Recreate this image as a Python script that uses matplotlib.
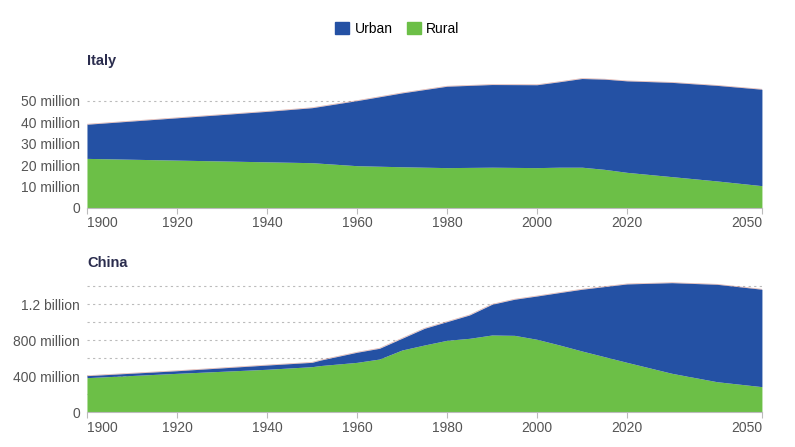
import numpy as np
import matplotlib
matplotlib.use("Agg")
import matplotlib.pyplot as plt
from matplotlib.patches import Patch

plt.rcParams['font.family'] = ['Liberation Sans', 'DejaVu Sans']

# Italy (people)
italy_years = [1900, 1920, 1940, 1950, 1960, 1970, 1980, 1990, 2000, 2005, 2010, 2015, 2020, 2030, 2040, 2050]
italy_total = [39.0, 42.0, 45.0, 46.7, 50.0, 53.6, 56.7, 57.5, 57.4, 58.8, 60.3, 60.0, 59.2, 58.5, 57.1, 55.3]
italy_rural = [23.1, 22.3, 21.5, 21.1, 19.7, 19.2, 18.8, 19.0, 18.8, 19.0, 19.0, 18.0, 16.6, 14.6, 12.6, 10.4]

# China (people)
china_years = [1900, 1920, 1940, 1950, 1952, 1960, 1965, 1970, 1975, 1980, 1985, 1990, 1995, 2000, 2005, 2010, 2020, 2030, 2040, 2050]
china_total = [407, 462, 525, 555, 581, 667, 711, 822, 933, 1007, 1081, 1200, 1256, 1292, 1330, 1367, 1426, 1440, 1422, 1367]
china_rural = [385, 433, 478, 507, 520, 555, 592, 692, 748, 800, 822, 859, 855, 811, 748, 681, 555, 433, 340, 285]

xticks = [1900, 1920, 1940, 1960, 1980, 2000, 2020, 2050]

blue = '#2451a4'
green = '#6cbf47'
grey_txt = '#555555'

fig = plt.figure(figsize=(7.95, 4.47), dpi=100)
ax1 = fig.add_axes([0.1094, 0.5347, 0.849, 0.293])
ax2 = fig.add_axes([0.1094, 0.0776, 0.849, 0.292])


def draw(ax, years, total, rural, scale, ylim, grid, labels, title, ty):
    years = np.array(years)
    total = np.array(total) * scale
    rural = np.array(rural) * scale
    for g in grid:
        ax.axhline(g, color='#bbbbbb', lw=0.8, ls=(0, (2, 3)), zorder=0)
    ax.fill_between(years, 0, rural, color=green, lw=0, zorder=2)
    ax.fill_between(years, rural, total, color=blue, lw=0, zorder=2)
    ax.plot(years, total, color='#b5544a', lw=0.5, alpha=0.45, zorder=3)
    ax.set_xlim(1900, 2050)
    ax.set_ylim(*ylim)
    ax.set_yticks([v for v, _ in labels])
    ax.set_yticklabels([t for _, t in labels])
    ax.set_xticks(xticks)
    ax.set_xticklabels([str(x) for x in xticks])
    tl = ax.get_xticklabels()
    tl[0].set_ha('left')
    tl[-1].set_ha('right')
    for s in ['top', 'right', 'left']:
        ax.spines[s].set_visible(False)
    ax.spines['bottom'].set_color('#bbbbbb')
    ax.tick_params(axis='y', length=0, pad=5, labelsize=10, labelcolor=grey_txt)
    ax.tick_params(axis='x', length=4, color='#bbbbbb', pad=2, labelsize=10, labelcolor=grey_txt)
    ax.text(0.0, ty, title, transform=ax.transAxes, fontsize=10.5,
            fontweight='bold', color='#2b2d4e', ha='left', va='center')


draw(ax1, italy_years, italy_total, italy_rural, 1e6, (0, 61e6),
     [50e6],
     [(0, '0'), (10e6, '10 million'), (20e6, '20 million'), (30e6, '30 million'),
      (40e6, '40 million'), (50e6, '50 million')], 'Italy', 1.12)
draw(ax2, china_years, china_total, china_rural, 1e6, (0, 1.45e9),
     [200e6, 400e6, 600e6, 800e6, 1.0e9, 1.2e9, 1.4e9],
     [(0, '0'), (400e6, '400 million'), (800e6, '800 million'), (1.2e9, '1.2 billion')], 'China', 1.145)

handles = [Patch(color=blue, label='Urban'), Patch(color=green, label='Rural')]
fig.legend(handles=handles, loc='center', bbox_to_anchor=(0.5, 1 - 29 / 447), ncol=2,
           frameon=False, fontsize=10, handlelength=1.0, handleheight=1.0,
           handletextpad=0.4, columnspacing=1.0)

fig.savefig('out.png', dpi=100)
